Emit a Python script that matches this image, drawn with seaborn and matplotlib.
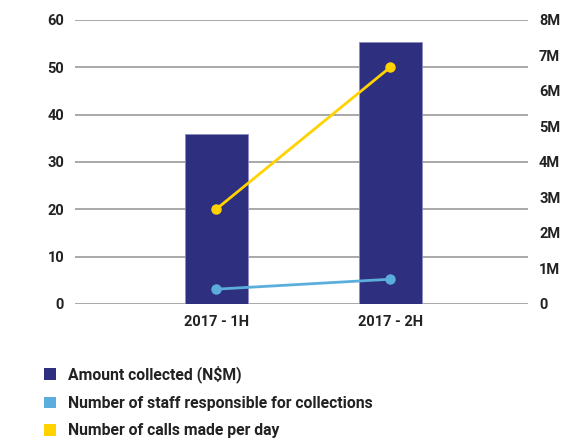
import matplotlib
matplotlib.use("Agg")
import matplotlib.pyplot as plt
import seaborn as sns
from matplotlib.patches import Patch

categories = ["2017 - 1H", "2017 - 2H"]
amount_collected = [35.8, 55.4]
staff = [3.1, 5.2]
calls = [20.0, 50.0]
left_ticks = [0, 10, 20, 30, 40, 50, 60]
right_ticks = [0, 1e6, 2e6, 3e6, 4e6, 5e6, 6e6, 7e6, 8e6]
right_labels = ["0", "1M", "2M", "3M", "4M", "5M", "6M", "7M", "8M"]
legend_labels = ["Amount collected (N$M)",
                 "Number of staff responsible for collections",
                 "Number of calls made per day"]

c_bar = "#2E2F7E"
c_staff = "#5BAEDB"
c_calls = "#FFD200"
txt = "#222222"

sns.set_style("white")
plt.rcParams['font.family'] = ['Roboto', 'DejaVu Sans']

fig = plt.figure(figsize=(5.61, 4.41), dpi=100)
ax = fig.add_axes([0.134, 0.311, 0.807, 0.644])

ax.set_axisbelow(True)
for t in left_ticks:
    ax.axhline(t, color="#9a9a9a", lw=1.2, zorder=0)

sns.barplot(x=categories, y=amount_collected, color=c_bar, width=0.36,
            edgecolor="#8c8cc0", linewidth=0.6, ax=ax, zorder=2, saturation=1)
sns.pointplot(x=categories, y=staff, color=c_staff, markers="o", markersize=6,
              linewidth=2, ax=ax, zorder=4)
sns.pointplot(x=categories, y=calls, color=c_calls, markers="o", markersize=6,
              linewidth=2, ax=ax, zorder=4)

ax.set_xlim(-0.81, 1.79)
ax.set_ylim(0, 60)
ax.set_yticks(left_ticks)
ax.set_yticklabels([str(t) for t in left_ticks])
ax.tick_params(axis="both", length=0, labelsize=10.5, colors=txt, pad=8)
ax.tick_params(axis="x", pad=8)
for lab in ax.get_xticklabels() + ax.get_yticklabels():
    lab.set_fontweight("bold")
ax.set_xlabel("")
ax.set_ylabel("")
for s in ax.spines.values():
    s.set_visible(False)

ax2 = ax.twinx()
ax2.set_ylim(0, 8e6)
ax2.set_yticks(right_ticks)
ax2.set_yticklabels(right_labels)
ax2.tick_params(axis="y", length=0, labelsize=10.5, colors=txt, pad=8)
for lab in ax2.get_yticklabels():
    lab.set_fontweight("bold")
for s in ax2.spines.values():
    s.set_visible(False)
ax2.grid(False)

handles = [Patch(facecolor=c_bar, edgecolor="none"),
           Patch(facecolor=c_staff, edgecolor="none"),
           Patch(facecolor=c_calls, edgecolor="none")]
leg = fig.legend(handles, legend_labels, loc="upper left",
                 bbox_to_anchor=(0.053, 0.203), frameon=False,
                 handlelength=0.75, handleheight=0.75, handletextpad=0.8,
                 labelspacing=0.8, fontsize=11.3)
for t in leg.get_texts():
    t.set_color(txt)
    t.set_fontweight("bold")

fig.savefig("out.png", dpi=100)
